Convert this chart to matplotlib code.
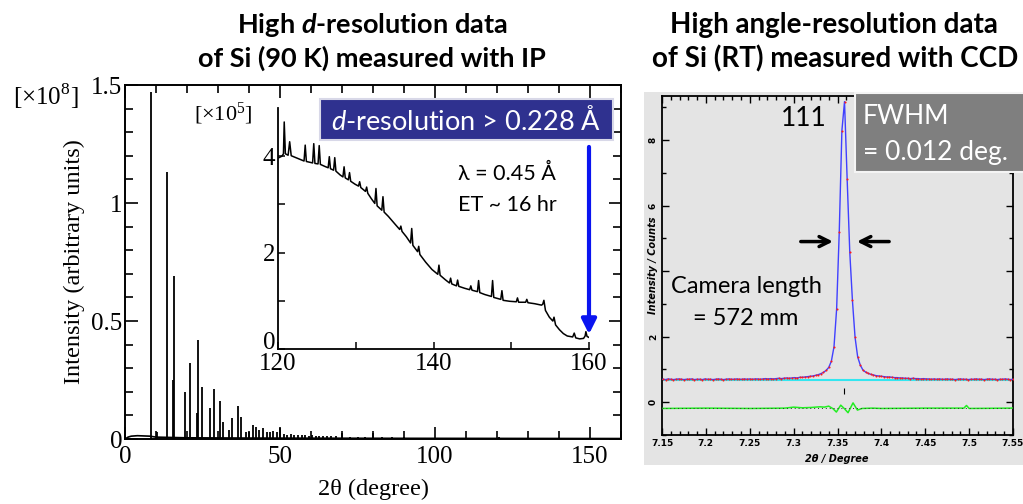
import numpy as np
import matplotlib
matplotlib.use("Agg")
import matplotlib.pyplot as plt
from matplotlib.patches import Rectangle
from matplotlib.ticker import MultipleLocator, FixedLocator, FixedFormatter

plt.rcParams['font.family'] = ['Liberation Serif', 'DejaVu Serif']
plt.rcParams['mathtext.fontset'] = 'custom'
plt.rcParams['mathtext.rm'] = 'Liberation Serif'
plt.rcParams['mathtext.it'] = 'Lato:italic'
plt.rcParams['mathtext.bfit'] = 'Lato:italic:bold'
SANS = ['Lato', 'DejaVu Sans']

# ---- left panel: full pattern (x1e8) ----
peak_2theta = [8.4, 10.4, 13.6, 15.4, 15.8, 19.2, 21.0, 23.2, 23.6, 24.9, 27.3, 28.6,
               30.5, 31.7, 33.5, 34.6, 36.3, 37.3, 38.9, 40.1, 41.3, 42.1, 43.3, 44.4,
               45.7, 46.8, 47.8, 48.9, 50.1, 51.3, 52.4, 53.5, 54.6, 55.8, 57.0, 58.1,
               59.3, 60.4, 61.6, 62.7, 64.0, 65.3, 66.5, 68.0, 70.1, 72.5, 75.0, 77.5,
               80.1, 83.0, 86.0, 90.0, 95.0, 100.0, 106.0, 112.0, 120.8, 137.2]
peak_height = [1.47, 0.03, 1.13, 0.25, 0.69, 0.20, 0.32, 0.11, 0.42, 0.22, 0.13, 0.21,
               0.16, 0.07, 0.04, 0.09, 0.14, 0.095, 0.03, 0.03, 0.06, 0.05, 0.04, 0.045,
               0.03, 0.03, 0.035, 0.03, 0.045, 0.02, 0.018, 0.02, 0.016, 0.018, 0.015, 0.016,
               0.014, 0.015, 0.013, 0.014, 0.012, 0.012, 0.011, 0.012, 0.025, 0.01, 0.01, 0.009,
               0.025, 0.008, 0.008, 0.007, 0.006, 0.006, 0.005, 0.005, 0.01, 0.006]
bg_2theta = [0, 1, 2, 4, 6, 8, 10, 20, 40, 80, 160]
bg_counts = [0.0, 0.008, 0.012, 0.014, 0.013, 0.012, 0.008, 0.005, 0.004, 0.003, 0.002]

# ---- inset: high-angle tail (x1e5) ----
inset_2theta = [120.0, 120.5, 120.7, 120.8, 120.95, 121.3, 121.5, 121.7, 122.3, 122.9,
                123.35, 123.5, 123.65, 124.2, 124.45, 124.6, 124.75, 125.15, 125.3, 125.45,
                126.0, 126.45, 126.6, 126.75, 127.15, 127.3, 127.45, 128.0, 128.35, 128.5,
                128.65, 129.05, 129.2, 129.35, 129.9, 130.35, 130.5, 130.65, 131.25, 131.4,
                131.55, 132.0, 132.45, 132.6, 132.75, 133.35, 133.5, 133.65, 134.2, 135.0,
                135.65, 135.8, 135.95, 136.5, 137.05, 137.2, 137.35, 137.95, 138.1, 138.25,
                139.0, 139.8, 140.55, 140.7, 140.85, 141.5, 142.05, 142.2, 142.35, 142.95,
                143.1, 143.25, 144.0, 144.65, 144.8, 144.95, 145.65, 145.8, 145.95, 146.6,
                147.45, 147.6, 147.75, 148.65, 148.8, 148.95, 149.8, 150.65, 150.8, 150.95,
                151.85, 152.0, 152.15, 153.0, 153.9, 154.05, 154.2, 154.4, 154.9, 155.35,
                155.5, 155.7, 156.2, 156.7, 157.2, 157.9, 158.1, 158.3, 158.8, 159.3,
                159.5, 159.6, 159.75, 160.0]
inset_counts = [3.96, 4.00, 4.05, 4.71, 4.05, 4.02, 4.30, 4.01, 3.97, 3.93,
                3.90, 4.23, 3.89, 3.87, 3.86, 4.26, 3.85, 3.84, 4.22, 3.83,
                3.79, 3.76, 3.99, 3.74, 3.71, 3.97, 3.69, 3.61, 3.57, 3.78,
                3.55, 3.51, 3.66, 3.48, 3.42, 3.38, 3.47, 3.35, 3.27, 3.36,
                3.23, 3.12, 3.02, 3.33, 2.97, 2.88, 3.16, 2.84, 2.75, 2.60,
                2.48, 2.55, 2.44, 2.33, 2.20, 2.50, 2.15, 2.02, 2.13, 1.96,
                1.80, 1.65, 1.55, 1.74, 1.53, 1.44, 1.37, 1.47, 1.35, 1.31,
                1.43, 1.30, 1.26, 1.23, 1.31, 1.22, 1.19, 1.42, 1.17, 1.13,
                1.09, 1.42, 1.07, 1.03, 1.21, 1.01, 0.99, 0.98, 1.06, 0.97,
                0.97, 1.03, 0.96, 0.94, 0.91, 0.93, 1.01, 0.80, 0.66, 0.58,
                0.66, 0.50, 0.40, 0.32, 0.27, 0.25, 0.33, 0.23, 0.21, 0.22,
                0.27, 0.36, 0.26, 0.24]

# ---- right panel: Si 111 profile ----
scan_start, scan_step = 7.151, 0.003
obs_counts = [0.70, 0.69, 0.71, 0.70, 0.69, 0.70, 0.71, 0.70, 0.69, 0.70,
              0.70, 0.71, 0.69, 0.70, 0.70, 0.69, 0.71, 0.70, 0.70, 0.69,
              0.70, 0.71, 0.70, 0.69, 0.70, 0.71, 0.70, 0.70, 0.71, 0.70,
              0.70, 0.71, 0.70, 0.71, 0.70, 0.71, 0.71, 0.70, 0.71, 0.72,
              0.71, 0.72, 0.71, 0.72, 0.73, 0.72, 0.73, 0.74, 0.73, 0.74,
              0.75, 0.74, 0.76, 0.76, 0.77, 0.78, 0.79, 0.80, 0.82, 0.84,
              0.87, 0.91, 0.97, 1.06, 1.25, 1.69, 2.84, 5.20, 8.28, 9.17,
              6.80, 4.57, 3.11, 1.98, 1.38, 1.13, 0.98, 0.92, 0.88, 0.85,
              0.83, 0.81, 0.80, 0.79, 0.78, 0.77, 0.77, 0.76, 0.75, 0.75,
              0.74, 0.74, 0.73, 0.73, 0.72, 0.73, 0.72, 0.72, 0.71, 0.72,
              0.71, 0.71, 0.70, 0.71, 0.70, 0.71, 0.70, 0.70, 0.71, 0.70,
              0.70, 0.69, 0.70, 0.71, 0.70, 0.70, 0.69, 0.70, 0.70, 0.71,
              0.70, 0.70, 0.69, 0.70, 0.71, 0.70, 0.70, 0.69, 0.70, 0.70,
              0.71, 0.70, 0.69, 0.70]
scan_2theta = scan_start + scan_step * np.arange(len(obs_counts))
bg_level = 0.68
diff_2theta = [7.15, 7.20, 7.25, 7.29, 7.30, 7.31, 7.32, 7.33, 7.335, 7.34, 7.345,
               7.3487, 7.3537, 7.358, 7.362, 7.3677, 7.3727, 7.378, 7.39, 7.40, 7.45,
               7.494, 7.497, 7.50, 7.55]
diff_counts = [-0.19, -0.18, -0.19, -0.18, -0.15, -0.17, -0.16, -0.14, -0.15, -0.12, -0.20,
               -0.30, -0.09, -0.20, -0.32, -0.02, -0.24, -0.19, -0.18, -0.19, -0.18,
               -0.18, -0.10, -0.19, -0.18]
refl_pos = 7.3575

W, H = 1023, 504
def fx(p): return p / W
def fy(p): return 1 - p / H

fig = plt.figure(figsize=(W / 100, H / 100), dpi=100)

# titles
fig.text(fx(372), fy(33), r'High $\mathbfit{d}$-resolution data', ha='center', va='baseline',
         fontsize=19.5, fontweight='bold', family=SANS)
fig.text(fx(372), fy(67), 'of Si (90 K) measured with IP', ha='center', va='baseline',
         fontsize=19.5, fontweight='bold', family=SANS)
fig.text(fx(834), fy(33), 'High angle-resolution data', ha='center', va='baseline',
         fontsize=20, fontweight='bold', family=SANS)
fig.text(fx(835), fy(67), 'of Si (RT) measured with CCD', ha='center', va='baseline',
         fontsize=20, fontweight='bold', family=SANS)

# --- main axes ---
ax = fig.add_axes([fx(125), fy(439), fx(621) - fx(125), fy(85) - fy(439)])
ax.plot(bg_2theta, bg_counts, color='black', lw=1.2)
ax.vlines(peak_2theta, 0, peak_height, color='black', lw=1.3)
ax.set_xlim(0, 160)
ax.set_ylim(0, 1.5)
ax.xaxis.set_major_locator(FixedLocator([0, 50, 100, 150]))
ax.xaxis.set_minor_locator(MultipleLocator(10))
ax.yaxis.set_major_locator(FixedLocator([0, 0.5, 1.0, 1.5]))
ax.yaxis.set_major_formatter(FixedFormatter(['0', '0.5', '1', '1.5']))
ax.yaxis.set_minor_locator(MultipleLocator(0.1))
ax.tick_params(which='both', direction='in', top=True, right=True, labelsize=18, width=1.2)
ax.tick_params(which='major', length=9)
ax.tick_params(which='minor', length=6)
ax.tick_params(axis='x', pad=5)
ax.tick_params(axis='y', pad=2)
for s in ax.spines.values():
    s.set_linewidth(1.4)
ax.set_xlabel('2θ (degree)', fontsize=17.5, labelpad=8)
ax.set_ylabel('Intensity (arbitrary units)', fontsize=17.5, labelpad=4)
fig.text(fx(46), fy(95), r'[×10$^{8}$]', ha='center', va='center', fontsize=18)

# --- inset ---
ins = fig.add_axes([fx(278), fy(349), fx(589) - fx(278), fy(108) - fy(349)])
ins.patch.set_visible(False)
ins.plot(inset_2theta, inset_counts, color='black', lw=1.1)
ins.set_xlim(120, 160)
ins.set_ylim(0, 5)
ins.spines['top'].set_visible(False)
ins.spines['right'].set_visible(False)
for s in ('left', 'bottom'):
    ins.spines[s].set_linewidth(1.3)
ins.xaxis.set_major_locator(FixedLocator([120, 140, 160]))
ins.xaxis.set_minor_locator(FixedLocator([130, 150]))
ins.yaxis.set_major_locator(FixedLocator([0, 2, 4]))
ins.yaxis.set_minor_locator(FixedLocator([1, 3]))
ins.tick_params(which='both', direction='in', labelsize=18, width=1.1)
ins.tick_params(which='major', length=5)
ins.tick_params(which='minor', length=5)
ins.tick_params(axis='x', pad=3)
ins.tick_params(axis='y', pad=2)
ins.get_yticklabels()[0].set_va('baseline')   # lift the "0" clear of "120"
fig.text(fx(223), fy(114), r'[×10$^{5}$]', ha='center', va='center', fontsize=16)
ins.annotate('', xy=(160, 0.25), xytext=(160, 4.25),
             arrowprops=dict(arrowstyle='-|>', color='#0a14f0', lw=3, mutation_scale=22))

fig.patches.append(Rectangle((fx(320), fy(140)), fx(613) - fx(320), fy(99) - fy(140),
                             transform=fig.transFigure, facecolor='#2f318f',
                             edgecolor='#d8d8e8', lw=1.5, zorder=5))
fig.text(fx(466), fy(130), r'$d$-resolution > 0.228 Å', ha='center', va='baseline',
         fontsize=19.5, color='white', family=SANS, zorder=6)
fig.text(fx(458), fy(180), 'λ = 0.45 Å', ha='left', va='baseline', fontsize=15.5, family=SANS)
fig.text(fx(458), fy(211), 'ET ~ 16 hr', ha='left', va='baseline', fontsize=15.5, family=SANS)

# --- right panel ---
panel_bg = '#e4e4e4'
fig.patches.append(Rectangle((fx(644), fy(465)), 1 - fx(644), fy(92) - fy(465),
                             transform=fig.transFigure, facecolor=panel_bg,
                             edgecolor='none', zorder=-1))
rx = fig.add_axes([fx(662), fy(435), fx(1013) - fx(662), fy(96) - fy(435)])
rx.set_facecolor(panel_bg)
rx.plot([7.15, 7.55], [bg_level, bg_level], color='#33e6f0', lw=1.5, zorder=2)
rx.plot(scan_2theta, obs_counts, color='#4040ff', lw=1.0, zorder=3)
rx.plot(scan_2theta, obs_counts, ls='none', marker='o', ms=1.5, mec='none', mfc='#ff1a1a', zorder=4)
rx.plot(diff_2theta, diff_counts, color='#22ee22', lw=1.1, zorder=3)
rx.plot([7.15, 7.55], [-0.18, -0.18], color='#303030', lw=0.7, ls=(0, (1, 3)), zorder=4)
rx.vlines([refl_pos], 0.25, 0.42, color='black', lw=0.8)
rx.set_xlim(7.15, 7.55)
rx.set_ylim(-1.0, 9.34)
xt = [7.15, 7.2, 7.25, 7.3, 7.35, 7.4, 7.45, 7.5, 7.55]
rx.xaxis.set_major_locator(FixedLocator(xt))
rx.xaxis.set_major_formatter(FixedFormatter(['7.15', '7.2', '7.25', '7.3', '7.35', '7.4', '7.45', '7.5', '7.55']))
rx.xaxis.set_minor_locator(MultipleLocator(0.01))
rx.yaxis.set_major_locator(FixedLocator([0, 2, 4, 6, 8]))
rx.yaxis.set_major_formatter(FixedFormatter(['0', '2', '', '6', '8']))
rx.yaxis.set_minor_locator(MultipleLocator(1))
rx.tick_params(which='both', direction='in', top=True, right=True, width=1.0,
               labelsize=6.5, pad=3)
rx.tick_params(which='major', length=5)
rx.tick_params(which='minor', length=3)
for lbl in rx.get_xticklabels() + rx.get_yticklabels():
    lbl.set_family('DejaVu Sans')
    lbl.set_fontweight('bold')
for lbl in rx.get_yticklabels():
    lbl.set_rotation(90)
    lbl.set_va('center')
for s in rx.spines.values():
    s.set_linewidth(1.3)
fig.text(fx(837), fy(459), '2θ / Degree', ha='center', va='center', fontsize=7,
         fontweight='bold', style='italic', family='DejaVu Sans')
fig.text(fx(653), fy(265), 'Intensity / Counts', ha='center', va='center', fontsize=7,
         fontweight='bold', style='italic', family='DejaVu Sans', rotation=90)

rx.text(7.312, 8.65, '111', ha='center', va='center', fontsize=19, family=SANS)
rx.annotate('', xy=(7.348, 4.9), xytext=(7.305, 4.9),
            arrowprops=dict(arrowstyle='->', color='black', lw=2.5, mutation_scale=18))
rx.annotate('', xy=(7.369, 4.9), xytext=(7.412, 4.9),
            arrowprops=dict(arrowstyle='->', color='black', lw=2.5, mutation_scale=18))
fig.text(fx(746), fy(293), 'Camera length', ha='center', va='baseline', fontsize=17, family=SANS)
fig.text(fx(746), fy(325), '= 572 mm', ha='center', va='baseline', fontsize=17, family=SANS)

fig.patches.append(Rectangle((fx(855), fy(172)), 1.02 - fx(855), fy(93) - fy(172),
                             transform=fig.transFigure, facecolor='#7f7f7f',
                             edgecolor='#f4f4f4', lw=1.5, zorder=5))
fig.text(fx(863), fy(124), 'FWHM', ha='left', va='baseline', fontsize=19,
         color='white', family=SANS, zorder=6)
fig.text(fx(863), fy(160), '= 0.012 deg.', ha='left', va='baseline', fontsize=19,
         color='white', family=SANS, zorder=6)

fig.savefig('out.png', dpi=100)
